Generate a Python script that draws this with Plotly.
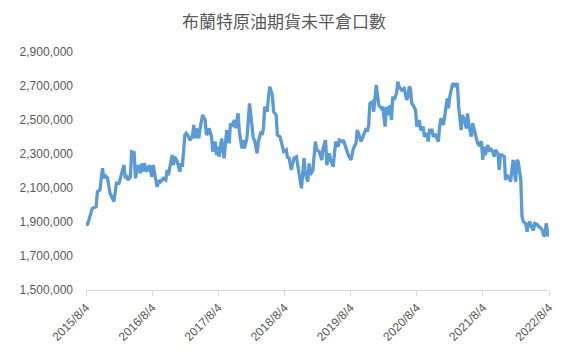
import pandas as pd
import plotly.graph_objects as go

# Weeks since 2015/8/4 and open interest (thousands of contracts)
weeks = [0,1,5,8,9,11,13,14,15,17,19,20,22,24,26,30,31,32,33,35,36,38,39,41,43,44,45,46,48,50,
         52,53,54,56,58,59,61,63,64,65,66,68,69,70,72,74,75,76,78,79,81,82,84,85,86,87,89,90,92,94,95,
         96,97,99,100,102,103,104,105,107,108,109,111,113,114,115,117,118,120,121,123,124,125,127,129,
         131,132,133,135,136,138,139,140,141,143,144,145,147,148,150,151,153,155,156,158,159,160,162,
         164,166,167,170,172,173,175,176,177,179,181,182,184,186,
         187,189,190,192,193,195,197,199,200,202,203,205,207,209,211,213,214,215,217,218,221,222,223,
         224,226,227,228,229,230,231,233,234,236,237,238,240,241,242,243,245,246,247,249,251,253,254,
         255,256,257,258,260,261,263,264,266,267,269,270,271,273,274,275,276,278,
         279,280,282,283,285,286,287,289,290,291,293,294,295,296,297,299,300,301,302,304,305,306,308,
         309,310,312,313,314,315,317,318,319,321,322,323,325,326,327,328,330,331,332,334,335,336,337,
         339,340,341,343,344,345,347,348,349,350,352,353,354,356,357,358,360,361,362,363,365]

open_interest_k = [1900,1880,1980,1990,2078,2088,2216,2157,2176,2157,2069,2049,2020,2128,2128,2235,2157,2176,2147,2166,
                   2313,2308,2157,2235,2186,2245,2196,2245,2196,2235,2166,2235,2186,2108,2147,2137,2157,2147,2206,2176,
                   2216,2294,2235,2284,2255,2196,2245,2225,2412,2422,2402,2382,2402,2471,2392,2451,2392,2451,2529,2500,2412,
                   2422,2451,2402,2314,2373,2294,2343,2284,2392,2324,2275,2441,2363,2481,2461,2500,2451,2539,2431,2333,
                   2382,2333,2392,2598,2481,2392,2382,2304,2373,2431,2412,2451,2578,2549,2637,2696,2647,2549,2529,2412,
                   2402,2353,2314,2324,2275,2284,2206,2275,2284,2235,2098,2275,2186,2137,2245,2176,2206,2373,2324,2314,2265,
                   2333,2382,2235,2304,2265,2225,2373,2343,2382,2373,2382,2333,2294,2265,2333,2363,2441,2422,2373,2392,
                   2451,2431,2471,2598,2608,2549,2647,2706,2647,2588,2569,2578,2461,2578,2529,2588,2500,2637,2618,2657,
                   2725,2696,2676,2686,2618,2637,2696,2686,2598,2588,2559,2461,2500,2441,2461,2402,2422,2373,2441,2441,
                   2402,2412,2412,2373,
                   2461,2510,2471,2520,2627,2569,2637,2706,2716,2696,2716,2578,2510,2441,2529,2490,2451,2539,2471,2402,
                   2481,2451,2382,2363,2353,2373,2265,2343,2294,2353,2314,2333,2314,2284,2324,2304,2206,2294,2294,2284,
                   2147,2176,2157,2137,2206,2265,2137,2265,2255,2150,1931,1902,1890,1843,1882,1902,1863,1850,1892,1885,
                   1873,1870,1853,1823,1815,1892,1815]

tick_dates = ["2015-08-04","2016-08-04","2017-08-04","2018-08-04","2019-08-04","2020-08-04","2021-08-04","2022-08-04"]
tick_labels = ["2015/8/4","2016/8/4","2017/8/4","2018/8/4","2019/8/4","2020/8/4","2021/8/4","2022/8/4"]
y_ticks = [1500000,1700000,1900000,2100000,2300000,2500000,2700000,2900000]

start = pd.Timestamp("2015-08-04")
dates = [start + pd.Timedelta(weeks=w) for w in weeks]
values = [v * 1000 for v in open_interest_k]

fig = go.Figure(go.Scatter(
    x=dates, y=values, mode="lines",
    line=dict(color="#5B9BD5", width=3.3),
    hoverinfo="skip",
))

fig.update_layout(
    width=575, height=356,
    margin=dict(l=72, r=34, t=44, b=74),
    paper_bgcolor="white", plot_bgcolor="white",
    showlegend=False,
    title=dict(text="布蘭特原油期貨未平倉口數", x=276/575, xref="container", xanchor="center",
               y=1 - 14/356, yanchor="middle", yref="container",
               font=dict(family="Noto Sans CJK TC", size=17, color="#595959")),
    font=dict(family="Liberation Sans", size=12, color="#595959"),
)
fig.update_xaxes(
    range=["2015-08-04", "2022-08-04"],
    tickvals=tick_dates, ticktext=tick_labels, tickangle=-45,
    showgrid=False, zeroline=False,
    showline=True, linecolor="#D9D9D9", linewidth=1,
    ticks="outside", ticklen=5, tickcolor="#D9D9D9",
    tickfont=dict(family="Liberation Sans", size=12, color="#595959"),
)
fig.update_yaxes(
    range=[1500000, 2900000],
    tickvals=y_ticks, tickformat=",d",
    showgrid=False, zeroline=False, showline=False,
    ticks="", ticklabelstandoff=12,
    tickfont=dict(family="Liberation Sans", size=12, color="#595959"),
)

fig.write_html("out.html")
